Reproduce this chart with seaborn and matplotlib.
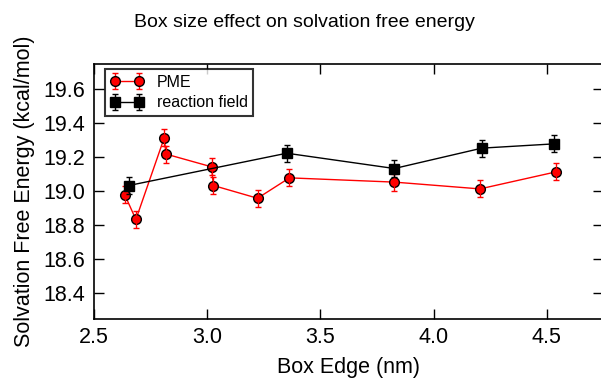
import matplotlib.pyplot as plt
import numpy as np
import pandas as pd
import seaborn as sns
from matplotlib.container import ErrorbarContainer

# PME runs
pme_edge = [2.637, 2.686, 2.811, 2.819, 3.020, 3.028, 3.223, 3.364, 3.827, 4.205, 4.540]
pme_dg = [18.98, 18.835, 19.315, 19.22, 19.145, 19.035, 18.96, 19.08, 19.055, 19.015, 19.115]
pme_err = [0.05, 0.05, 0.05, 0.05, 0.05, 0.05, 0.05, 0.05, 0.05, 0.05, 0.05]

# reaction field runs
rf_edge = [2.655, 3.352, 3.827, 4.214, 4.532]
rf_dg = [19.035, 19.225, 19.135, 19.255, 19.28]
rf_err = [0.05, 0.05, 0.05, 0.05, 0.05]

sns.set_style("ticks", {'text.color': 'black', 'axes.labelcolor': 'black',
                        'xtick.color': 'black', 'ytick.color': 'black'})
plt.rcParams['font.family'] = ['Liberation Sans', 'DejaVu Sans']

df = pd.concat([
    pd.DataFrame({'edge': pme_edge, 'dg': pme_dg, 'err': pme_err, 'method': 'PME'}),
    pd.DataFrame({'edge': rf_edge, 'dg': rf_dg, 'err': rf_err, 'method': 'reaction field'}),
])

fig = plt.figure(figsize=(6.01, 3.81), dpi=100)
ax = fig.add_axes([0.156, 0.163, 0.848, 0.669])

styles = {'PME': ('red', 'o'), 'reaction field': ('black', 's')}
handles = []
for method, sub in df.groupby('method', sort=False):
    color, marker = styles[method]
    sns.lineplot(data=sub, x='edge', y='dg', sort=False, ax=ax, color=color,
                 marker=marker, markersize=7, markeredgecolor='black',
                 markeredgewidth=1, linewidth=1, legend=False)
    line = ax.lines[-1]
    eb = ax.errorbar(sub['edge'], sub['dg'], yerr=sub['err'], fmt='none',
                     ecolor=color, elinewidth=1, capsize=2, capthick=1)
    handles.append(ErrorbarContainer((line, eb.lines[1], eb.lines[2]),
                                     has_xerr=False, has_yerr=True, label=method))

ax.set_xlim(2.5, 4.75)
ax.set_ylim(18.25, 19.75)
ax.set_xticks(np.arange(2.5, 4.51, 0.5))
ax.set_yticks(np.arange(18.4, 19.61, 0.2))
ax.tick_params(direction='in', top=True, right=True, length=7, width=1,
               labelsize=15.5, pad=6, colors='black')
for s in ax.spines.values():
    s.set_linewidth(1.2)
    s.set_color('black')

ax.set_xlabel('Box Edge (nm)', fontsize=15.5, labelpad=6, color='black')
ax.set_ylabel('Solvation Free Energy (kcal/mol)', fontsize=15.5, labelpad=6,
              color='black')
fig.text(0.506, 0.942, 'Box size effect on solvation free energy',
         ha='center', va='center', fontsize=14, color='black')

leg = ax.legend(handles=handles, loc='upper left', numpoints=2, fontsize=11.5,
                fancybox=False, frameon=True, bbox_to_anchor=(0.022, 0.98),
                borderaxespad=0, handlelength=2.1, handletextpad=0.8,
                labelspacing=0.35, borderpad=0.35)
leg.get_frame().set_edgecolor('black')
leg.get_frame().set_linewidth(1.5)
for t in leg.get_texts():
    t.set_color('black')

fig.savefig('out.png', dpi=100)
